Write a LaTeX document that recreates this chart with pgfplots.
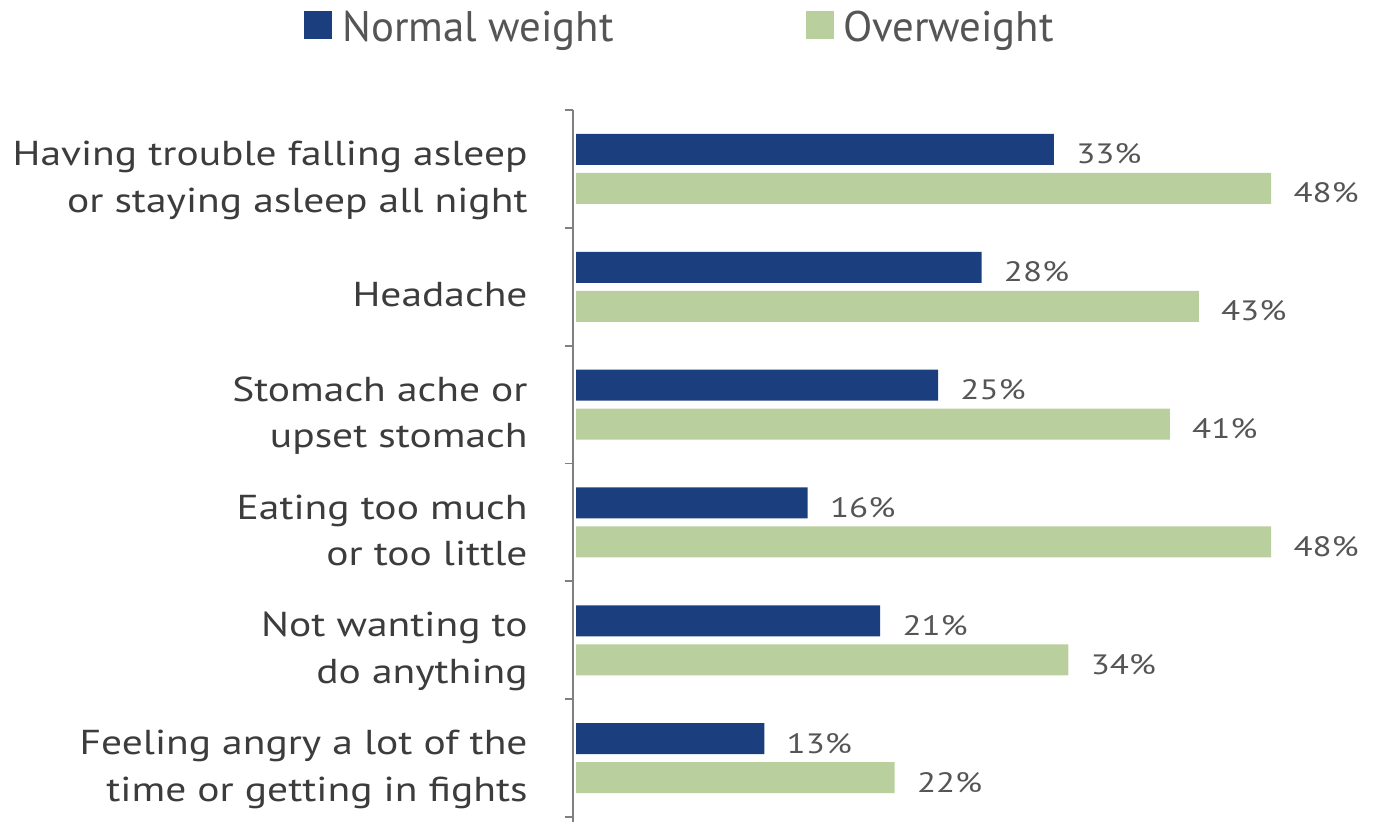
\documentclass[border=0pt]{standalone}
\usepackage{pgfplots}
\pgfplotsset{compat=1.18}
\usepackage{fontspec}
\setmainfont{PT Sans}
\newfontfamily\labelfont{PT Sans}[FakeStretch=1.2]
\newfontfamily\valuefont{PT Sans}[FakeStretch=1.25]
\newfontfamily\legendfont{PT Sans}
\definecolor{navy}{HTML}{1B3F7E}
\definecolor{sage}{HTML}{BACF9E}
\definecolor{txt}{HTML}{3C3C3C}
\definecolor{valtxt}{HTML}{555555}
\definecolor{axgray}{HTML}{808080}
\newcommand{\lab}[1]{\begin{tabular}{@{}r@{}}#1\end{tabular}}
\begin{document}
\begin{tikzpicture}
\begin{axis}[
  scale only axis,
  width=400.5pt, height=356pt,
  xmin=-0.21, xmax=55.1,
  y dir=reverse,
  ymin=-0.5, ymax=5.542,
  axis x line=none,
  axis y line*=left,
  axis line style={axgray, line width=1pt},
  ytick={0,1,2,3,4,5},
  yticklabels={{\lab{Having trouble falling asleep\\or staying asleep all night}},
               {\lab{Headache}},
               {\lab{Stomach ache or\\upset stomach}},
               {\lab{Eating too much\\or too little}},
               {\lab{Not wanting to\\do anything}},
               {\lab{Feeling angry a lot of the\\time or getting in fights}}},
  yticklabel style={anchor=east, inner sep=0pt, xshift=-22.5pt, yshift=-5.3pt,
     font=\labelfont\fontsize{17.3}{23.3}\selectfont, text=txt},
  major tick length=0pt,
  minor ytick={-0.5,0.5,1.5,2.5,3.5,4.5,5.5},
  minor tick length=4pt,
  tick align=outside,
  minor tick style={axgray, line width=0.9pt},
  xbar, bar width=15.5pt, bar shift=0pt,
  point meta=x,
  /pgf/number format/assume math mode=true,
  nodes near coords={\pgfmathprintnumber{\pgfplotspointmeta}\%},
  nodes near coords style={anchor=west, inner sep=0pt, xshift=11pt, yshift=-2.3pt,
     font=\valuefont\fontsize{14}{16}\selectfont, text=valtxt},
  legend columns=2,
  legend style={at={(-0.3433,1.151)}, anchor=north west, draw=none, fill=none,
     font=\legendfont\fontsize{21.4}{25}\selectfont, text=valtxt,
     /tikz/every even column/.append style={column sep=94pt}},
  legend image code/.code={\fill[#1] (0pt,-5.5pt) rectangle (14pt,8.5pt); \path (17pt,0pt);},
  clip=false,
]
\addplot[fill=navy, draw=none] coordinates {
  (33,-0.1655) (28,0.8345) (25,1.8345) (16,2.8345) (21,3.8345) (13,4.8345)};
\addlegendentry{Normal weight}
\addplot[fill=sage, draw=none] coordinates {
  (48,0.1655) (43,1.1655) (41,2.1655) (48,3.1655) (34,4.1655) (22,5.1655)};
\addlegendentry{Overweight}
\end{axis}
\pgfresetboundingbox
\path (current axis.south west) ++(-286.5pt,0pt) rectangle ([shift={(0pt,55pt)}]current axis.north east);
\end{tikzpicture}
\end{document}
